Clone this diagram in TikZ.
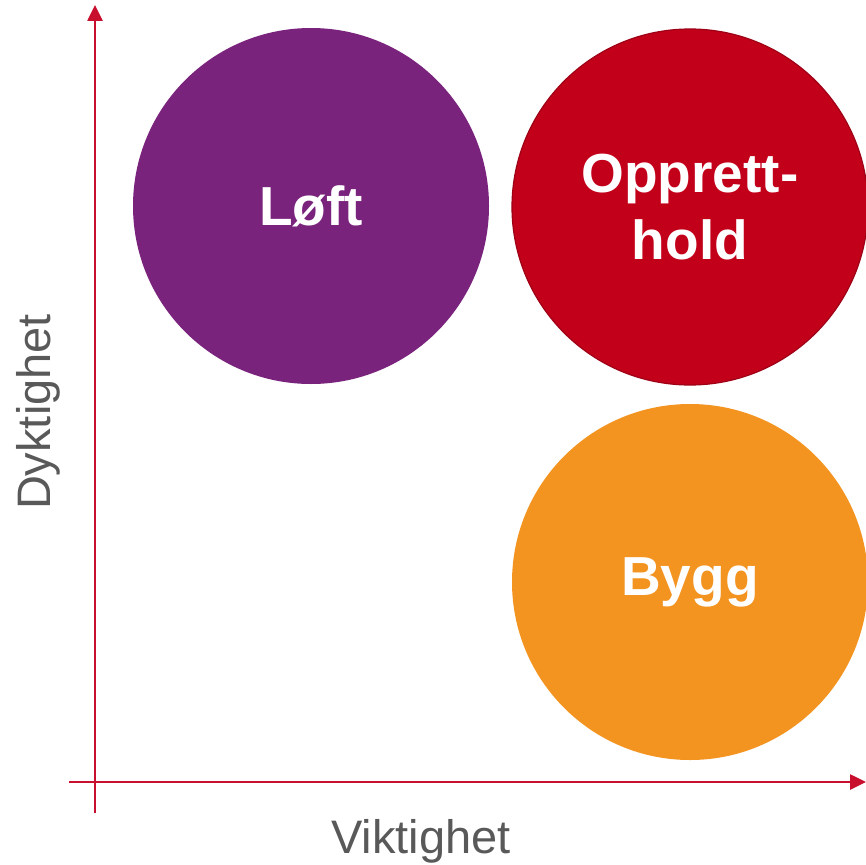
\documentclass[tikz,border=0pt]{standalone}
\usepackage{fontspec}
\setmainfont{Liberation Sans}
\usetikzlibrary{arrows.meta}
\definecolor{axisred}{HTML}{C8102E}
\definecolor{cpurple}{HTML}{7A237D}
\definecolor{cred}{HTML}{C3001A}
\definecolor{credborder}{HTML}{9E0016}
\definecolor{corange}{HTML}{F39320}
\definecolor{labelgray}{HTML}{595959}
\tikzset{
  axis/.style={draw=axisred, line width=2.6pt, -{Triangle[width=15pt,length=16pt]}},
  bubble/.style={circle, inner sep=0pt, minimum size=356pt, text=white, align=center,
    font=\bfseries\fontsize{55}{67}\selectfont},
  axislabel/.style={text=labelgray, font=\fontsize{47}{50}\selectfont, inner sep=0pt}
}
\begin{document}
\begin{tikzpicture}[x=1pt,y=-1pt]
\useasboundingbox (0,0) rectangle (866,864);
\coordinate (yb) at (95,813);
\coordinate (yt) at (95,5);
\coordinate (xl) at (69,782);
\coordinate (xr) at (866,782);
\draw[axis] (yb) -- (yt);
\draw[axis] (xl) -- (xr);
\node[bubble, fill=cpurple] (loft) at (311,206) {Løft};
\node[bubble, fill=cred, draw=credborder, line width=1.2pt] (oppr) at (690,207) {Opprett-\\hold};
\node[bubble, fill=corange] (bygg) at (690,582) {Bygg};
\node[axislabel, anchor=base] (vik) at (421,853) {Viktighet};
\node[axislabel, anchor=base, rotate=90] (dyk) at (50,412) {Dyktighet};
\end{tikzpicture}
\end{document}
